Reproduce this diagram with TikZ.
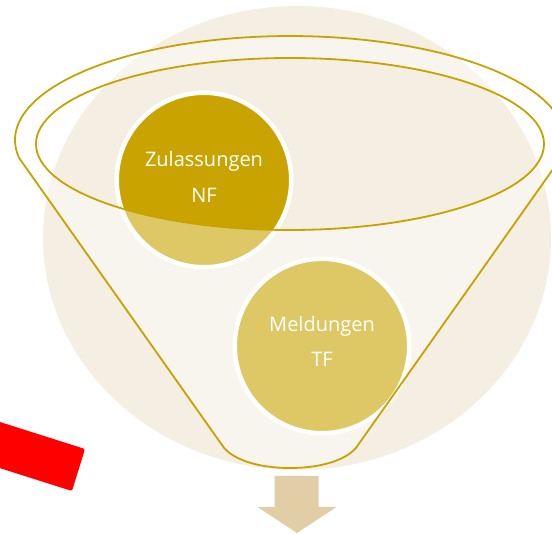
\documentclass[tikz,border=0pt]{standalone}
\usepackage{fontspec}
\setmainfont{Open Sans}
\definecolor{bgbeige}{HTML}{F4EEE3}
\definecolor{gold}{HTML}{C9A400}
\definecolor{goldline}{HTML}{C8A200}
\definecolor{arrowtan}{HTML}{E2CEA6}
\definecolor{redbar}{HTML}{FF0000}
\tikzset{
  bubble/.style={circle, inner sep=0pt, minimum size=174.5pt, fill=gold, draw=white, line width=4.5pt},
  lbl/.style={text=white, font=\fontsize{20}{24}\selectfont, inner sep=0pt, anchor=base},
  funnelline/.style={draw=goldline, line width=1.8pt, line join=round}
}
\begin{document}
\begin{tikzpicture}[x=1pt,y=-1pt]
\useasboundingbox (0,0) rectangle (552,534);
\clip (0,0) rectangle (552,534);
% background ellipse
\fill[bgbeige] (297,238) ellipse [x radius=254, y radius=232];
% circles
\node[bubble] (c1) at (204,180) {};
\node[bubble] (c2) at (322,346) {};
% funnel body overlay
\fill[white, fill opacity=0.4, even odd rule]
  (19.2,158.1) arc[start angle=170, end angle=370, x radius=275, y radius=104]
  -- (358,445) .. controls (350,458) and (325,468) .. (290,468)
  .. controls (255,468) and (230,458) .. (222,445) -- cycle
  (290,144) ellipse [x radius=254, y radius=86];
% funnel outlines
\draw[funnelline]
  (19.2,158.1) arc[start angle=170, end angle=370, x radius=275, y radius=104]
  -- (358,445) .. controls (350,458) and (325,468) .. (290,468)
  .. controls (255,468) and (230,458) .. (222,445) -- cycle;
\draw[funnelline] (290,144) ellipse [x radius=254, y radius=86];
% texts
\node[lbl] (t1a) at (204,167) {Zulassungen};
\node[lbl] (t1b) at (204,203) {NF};
\node[lbl] (t2a) at (322,332) {Meldungen};
\node[lbl] (t2b) at (322,367) {TF};
% arrow
\fill[arrowtan] (274.5,476) -- (318.5,476) -- (318.5,507) -- (336.5,507)
  -- (297,533) -- (257.5,507) -- (274.5,507) -- cycle;
% red bar
\fill[redbar, rounded corners=2pt] (-105.6,388.5) -- (85,449) -- (72,491) -- (-118.6,430.5) -- cycle;
\end{tikzpicture}
\end{document}
